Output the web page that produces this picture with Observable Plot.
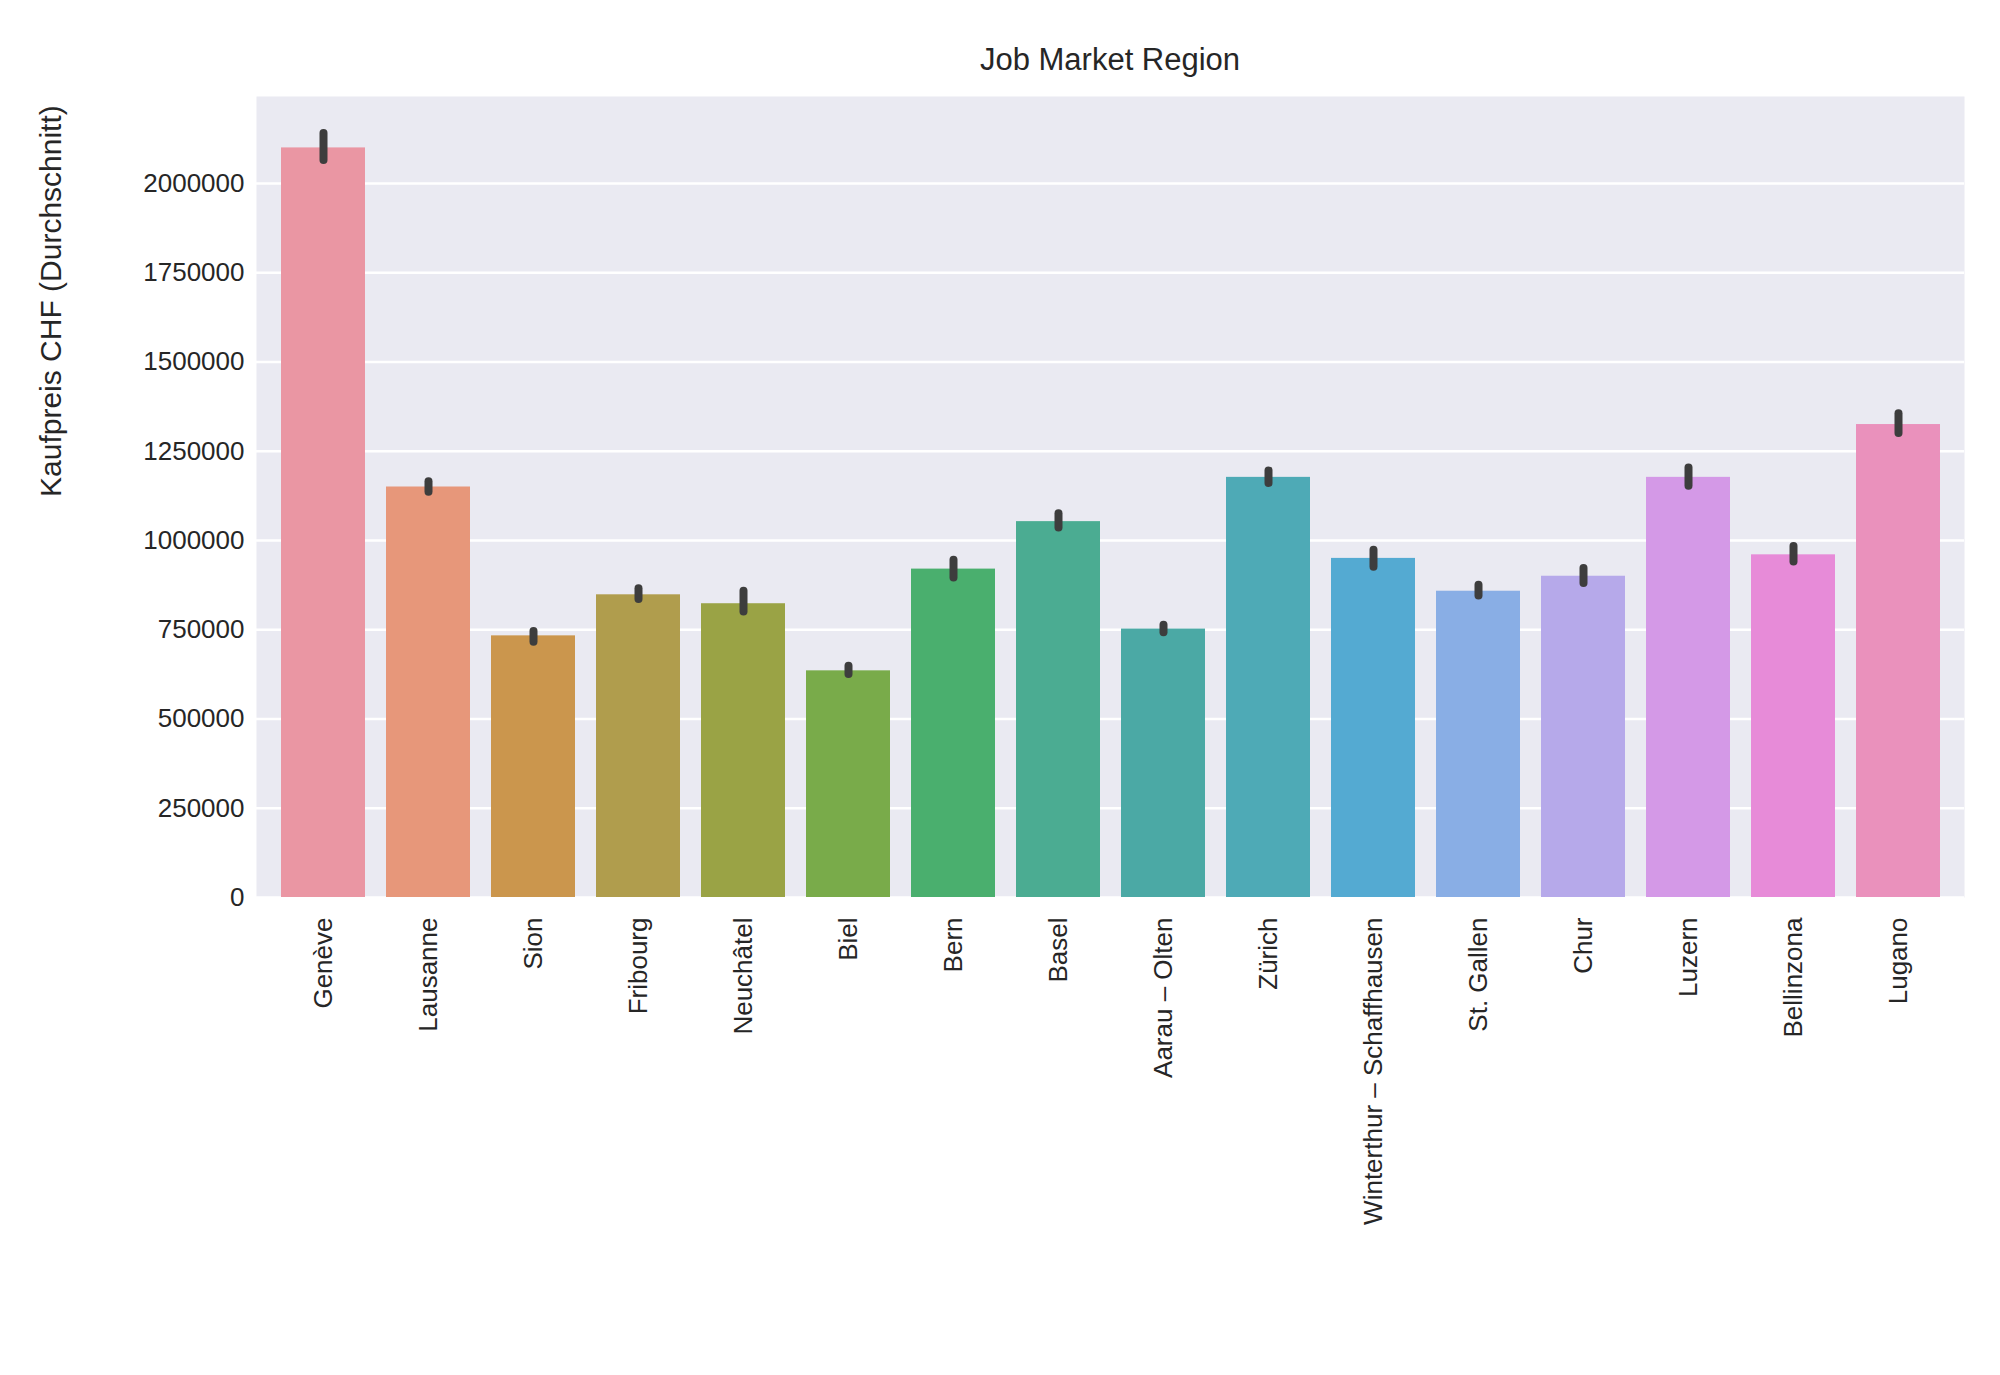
<!DOCTYPE html>
<html lang="en">
<head>
<meta charset="UTF-8">
<script src="https://cdn.jsdelivr.net/npm/d3@7"></script>
<script src="https://cdn.jsdelivr.net/npm/@observablehq/plot@0.6"></script>
<style>
  body { margin: 0; background: #fff; font-family: "Liberation Sans", Arial, sans-serif; }
  #title { height: 90px; width: 2000px; position: relative; }
  #title span { position: absolute; left: 1110px; top: 42px; transform: translateX(-50%); font-size: 31px; color: #262626; }
</style>
</head>
<body>
<div id="title"><span>Job Market Region</span></div>
<div id="plot"></div>
<script>
const regions = ["Genève", "Lausanne", "Sion", "Fribourg", "Neuchâtel", "Biel", "Bern", "Basel", "Aarau – Olten", "Zürich", "Winterthur – Schaffhausen", "St. Gallen", "Chur", "Luzern", "Bellinzona", "Lugano"];
const means = [2100000, 1150000, 733000, 848000, 823000, 635000, 920000, 1053000, 752000, 1177000, 950000, 858000, 900000, 1177000, 960000, 1325000];
const lows = [2065000, 1135000, 715000, 835000, 800000, 625000, 895000, 1035000, 742000, 1160000, 925000, 845000, 880000, 1152000, 940000, 1300000];
const highs = [2140000, 1165000, 745000, 865000, 858000, 648000, 945000, 1075000, 763000, 1195000, 973000, 875000, 922000, 1203000, 983000, 1355000];
const colors = ["#ea96a3", "#e7977a", "#cb964d", "#b09d4d", "#9aa345", "#79ab4a", "#4aaf6e", "#4bac92", "#4ba9a5", "#4eaab6", "#54aad2", "#89aee5", "#b6a9ea", "#d499e7", "#e78bd8", "#ea91bc"];

const data = regions.map((r, i) => ({region: r, mean: means[i], lo: lows[i], hi: highs[i]}));

const plot = Plot.plot({
  width: 2000,
  height: 1285,
  marginTop: 6,
  marginBottom: 478,
  marginLeft: 256,
  marginRight: 36,
  style: {fontFamily: "Liberation Sans, Arial, sans-serif", fontSize: "26px", color: "#262626", background: "#fff"},
  x: {domain: regions, padding: 0.2, label: null},
  y: {domain: [0, 2244000], label: null},
  color: {domain: regions, range: colors},
  marks: [
    Plot.frame({fill: "#eaeaf2", stroke: null}),
    Plot.gridY({ticks: d3.range(0, 2000001, 250000), stroke: "#fff", strokeOpacity: 1, strokeWidth: 2.5}),
    Plot.barY(data, {x: "region", y: "mean", fill: "region"}),
    Plot.ruleX(data, {x: "region", y1: "lo", y2: "hi", stroke: "#3d3d3d", strokeWidth: 8, strokeLinecap: "round"}),
    Plot.axisY({ticks: d3.range(0, 2000001, 250000), tickSize: 0, tickPadding: 12, tickFormat: d => String(d), fontSize: 26}),
    Plot.axisX({tickSize: 0, tickRotate: -90, tickPadding: 20, fontSize: 26}),
    Plot.text(["Kaufpreis CHF (Durchschnitt)"], {frameAnchor: "left", dx: -205, rotate: -90, fontSize: 30, fill: "#262626"})
  ]
});
document.getElementById("plot").append(plot);
</script>
</body>
</html>
